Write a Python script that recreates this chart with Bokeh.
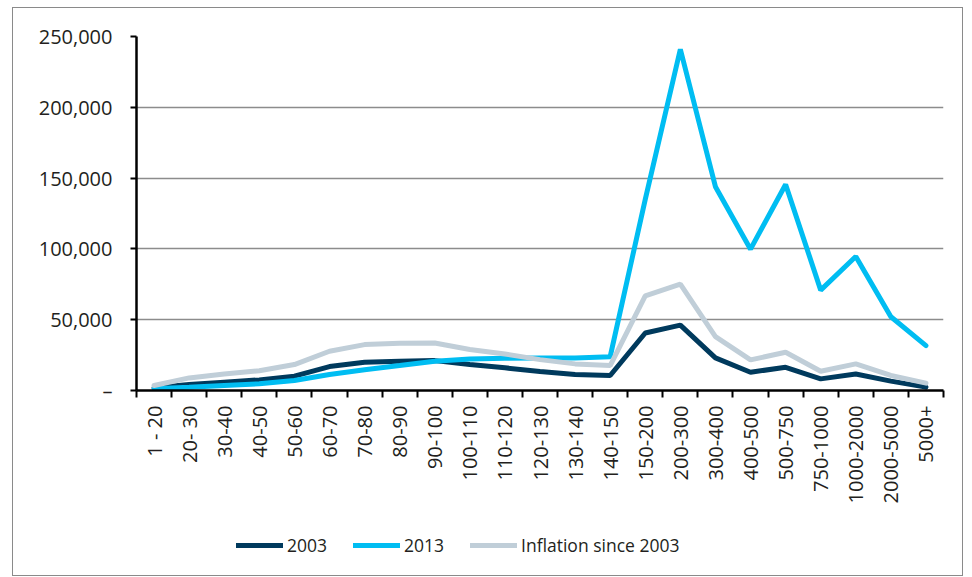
import math
from bokeh.plotting import figure
from bokeh.layouts import column
from bokeh.models import Range1d, FixedTicker, NumeralTickFormatter, Legend, LegendItem
from bokeh.embed import file_html
from bokeh.resources import INLINE

categories = ["1 - 20", "20- 30", "30-40", "40-50", "50-60", "60-70", "70-80", "80-90",
              "90-100", "100-110", "110-120", "120-130", "130-140", "140-150", "150-200",
              "200-300", "300-400", "400-500", "500-750", "750-1000", "1000-2000",
              "2000-5000", "5000+"]
v2003 = [1900, 4200, 5900, 7500, 10100, 16900, 19900, 20700, 21100, 18300, 16000, 13400,
         11300, 10600, 40600, 46200, 23000, 12900, 16400, 8200, 11700, 6600, 2400]
v2013 = [1200, 2300, 3500, 4700, 7000, 11300, 14600, 17600, 20700, 22300, 22800, 23000,
         23000, 23900, 135000, 241000, 143900, 99800, 145500, 70900, 94600, 52100, 31700]
inflation = [3500, 8900, 11700, 14000, 18300, 27700, 32400, 33300, 33600, 28900, 25800,
             21800, 18800, 17600, 66900, 75100, 38000, 21600, 27000, 13600, 18800, 10600, 5200]
y_ticks = [0, 50000, 100000, 150000, 200000, 250000]
series_names = ["2003", "2013", "Inflation since 2003"]
colors = ["#003a5d", "#00bdf2", "#c0ced8"]

n = len(categories)
xs = [i + 0.5 for i in range(n)]

FONT = "Open Sans"
TXT = "#231f20"

p = figure(width=949, height=512, x_range=Range1d(0, n), y_range=Range1d(0, 250000),
           output_backend="svg", toolbar_location=None,
           min_border_left=123, min_border_right=19, min_border_top=28, min_border_bottom=130)
p.outline_line_color = None
p.background_fill_color = "white"
p.border_fill_color = "white"

for vals, name, col in zip([v2003, v2013, inflation], series_names, colors):
    p.line(xs, vals, line_color=col, line_width=5, line_cap="round")

# x axis
xa = p.xaxis[0]
xa.ticker = FixedTicker(ticks=xs, minor_ticks=list(range(n + 1)))
xa.major_label_overrides = {x: c for x, c in zip(xs, categories)}
xa.major_label_orientation = math.pi / 2
xa.major_tick_line_color = None
xa.major_tick_out = 7
xa.minor_tick_out = 7
xa.minor_tick_in = 0
xa.minor_tick_line_color = "black"
xa.minor_tick_line_width = 2
xa.axis_line_color = "black"
xa.axis_line_width = 2.5
xa.major_label_standoff = 8
xa.major_label_text_font = FONT
xa.major_label_text_font_size = "20px"
xa.major_label_text_color = TXT

# y axis
ya = p.yaxis[0]
ya.ticker = FixedTicker(ticks=y_ticks)
ya.formatter = NumeralTickFormatter(format="0,0")
ya.major_label_overrides = {0: "\u2013"}
ya.major_tick_out = 6
ya.major_tick_in = 0
ya.major_tick_line_color = "black"
ya.major_tick_line_width = 2
ya.minor_tick_line_color = None
ya.axis_line_color = "black"
ya.axis_line_width = 2.5
ya.major_label_standoff = 18
ya.major_label_text_font = FONT
ya.major_label_text_font_size = "20px"
ya.major_label_text_color = TXT

p.xgrid.grid_line_color = None
p.ygrid.ticker = FixedTicker(ticks=y_ticks)
p.ygrid.grid_line_color = "#8c8c8c"
p.ygrid.grid_line_width = 1.4

# legend strip below the chart
lf = figure(width=949, height=55, x_range=Range1d(0, 1), y_range=Range1d(0, 1),
            output_backend="svg", toolbar_location=None,
            x_axis_location=None, y_axis_location=None,
            min_border_left=0, min_border_right=0, min_border_top=0, min_border_bottom=0)
lf.outline_line_color = None
lf.grid.visible = False
items = []
for name, col in zip(series_names, colors):
    r = lf.line(x=[-5, -4], y=[-5, -5], line_color=col, line_width=5, line_cap="round")
    items.append(LegendItem(label=name, renderers=[r]))
lg = Legend(items=items, orientation="horizontal", location=(100, 18))
lg.margin = 0
lg.padding = 0
lg.border_line_color = None
lg.background_fill_alpha = 0
lg.glyph_width = 47
lg.glyph_height = 20
lg.label_height = 20
lg.label_standoff = 4
lg.spacing = 26
lg.label_text_font = FONT
lg.label_text_font_size = "17.5px"
lg.label_text_color = TXT
lf.add_layout(lg, "center")

layout = column(p, lf, spacing=0)
layout.styles = {"border": "1px solid #8a8a8a", "margin-left": "12px", "margin-top": "7px"}

open("out.html", "w").write(file_html(layout, INLINE))
